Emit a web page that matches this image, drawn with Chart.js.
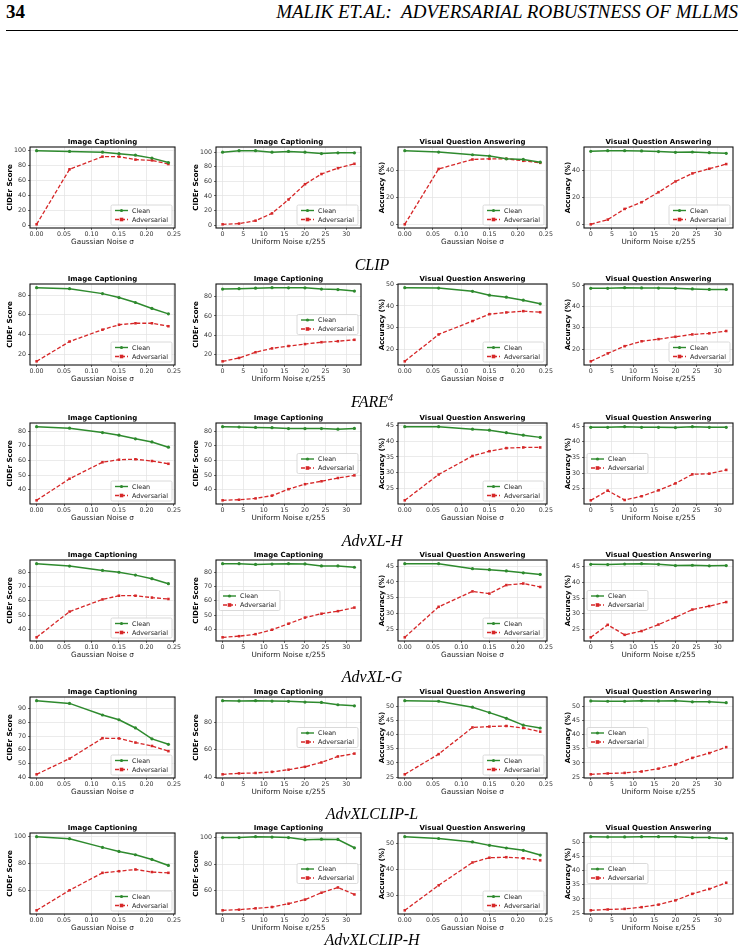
<!DOCTYPE html>
<html>
<head>
<meta charset="utf-8">
<script src="https://cdn.jsdelivr.net/npm/chart.js@4.4.0/dist/chart.umd.min.js"></script>
<style>
  body { margin: 0; width: 744px; height: 949px; background: #fff; position: relative; overflow: hidden; font-family: "Liberation Serif", serif; }
  .hdr { position: absolute; top: 1px; font-size: 19px; line-height: 22px; }
  .rule { position: absolute; left: 6px; right: 6px; top: 30px; border-top: 1px solid #000; }
  .cap { position: absolute; left: 0; width: 744px; text-align: center; font-style: italic; font-size: 16px; line-height: 18px; z-index: 2; pointer-events: none; }
  .cap sup { font-size: 10px; line-height: 0; }
  canvas { position: absolute; }
</style>
</head>
<body>
<div class="hdr" style="left:6px;font-weight:bold">34</div>
<div class="hdr" style="right:6px;font-style:italic">MALIK ET.AL:&nbsp; ADVERSARIAL ROBUSTNESS OF MLLMS</div>
<div class="rule"></div>

<div class="cap" style="top:256px">CLIP</div>
<div class="cap" style="top:393px">FARE<sup>4</sup></div>
<div class="cap" style="top:532px">AdvXL-H</div>
<div class="cap" style="top:668px">AdvXL-G</div>
<div class="cap" style="top:805px">AdvXLCLIP-L</div>
<div class="cap" style="top:931px">AdvXLCLIP-H</div>

<script>
const gaussSigma = [0, 0.06, 0.12, 0.15, 0.18, 0.21, 0.24];
const uniformEps = [0, 4, 8, 12, 16, 20, 24, 28, 32];

// CLIP
const clipCapGaussClean = [100, 99, 98, 96, 94, 90, 84];
const clipCapGaussAdv = [1, 75, 92, 92, 88, 87, 82];
const clipCapUnifClean = [100, 102, 102, 100, 101, 100, 98, 99, 99];
const clipCapUnifAdv = [1, 2, 6, 16, 35, 56, 70, 78, 84];
const clipVqaGaussClean = [54.5, 53.5, 51.5, 50.5, 48.5, 48, 46];
const clipVqaGaussAdv = [0, 41, 48, 48.5, 48.5, 47, 45.5];
const clipVqaUnifClean = [54.5, 55, 55, 54.8, 54.3, 53.8, 54, 53.5, 53];
const clipVqaUnifAdv = [0, 3.5, 11.5, 16.5, 24, 32, 38, 41.5, 45];

// FARE4
const fareCapGaussClean = [87.5, 86.5, 81.5, 77.5, 72.5, 66.5, 61];
const fareCapGaussAdv = [13, 33, 45, 50, 51.5, 51.5, 48.5];
const fareCapUnifClean = [88, 88.5, 89, 89.5, 89.3, 89.3, 88, 87.5, 86];
const fareCapUnifAdv = [12.5, 16, 22, 26, 28.5, 30.5, 32.5, 33.5, 35];
const fareVqaGaussClean = [48.5, 48.3, 46.8, 45, 44.1, 42.7, 41];
const fareVqaGaussAdv = [14.3, 26.8, 33, 36.2, 37, 37.6, 37.1];
const fareVqaUnifClean = [48.5, 48.5, 48.8, 48.7, 48.6, 48.5, 48.2, 48, 48];
const fareVqaUnifAdv = [14.3, 18, 21.4, 23.7, 24.7, 25.8, 26.9, 27.4, 28.5];

// AdvXL-H
const xlhCapGaussClean = [83, 82, 79, 77.2, 74.7, 72.6, 69];
const xlhCapGaussAdv = [32.8, 47.5, 58.8, 60.5, 60.8, 59.6, 57.7];
const xlhCapUnifClean = [83, 82.8, 82.5, 82.3, 81.7, 81.7, 81.7, 81.3, 81.8];
const xlhCapUnifAdv = [32.8, 33.2, 34.1, 36, 40.4, 43.8, 45.8, 48, 49.8];
const xlhVqaGaussClean = [44.6, 44.6, 43.8, 43.5, 42.7, 41.9, 41.2];
const xlhVqaGaussAdv = [21.2, 29.4, 35.3, 36.8, 37.8, 38, 38];
const xlhVqaUnifClean = [44.6, 44.6, 44.8, 44.6, 44.6, 44.5, 44.8, 44.6, 44.6];
const xlhVqaUnifAdv = [21.3, 24.4, 21.4, 22.6, 24.5, 26.7, 29.6, 29.8, 31];

// AdvXL-G
const xlgCapGaussClean = [86, 84.3, 81.3, 80, 78, 75.5, 72];
const xlgCapGaussAdv = [34.5, 52.5, 61, 63.6, 63.6, 62.3, 61.3];
const xlgCapUnifClean = [86, 86, 85.5, 85.7, 86, 85.8, 84.4, 84.4, 83.5];
const xlgCapUnifAdv = [34.5, 35.3, 36.7, 39.8, 44, 48.3, 51, 52.8, 55.3];
const xlgVqaGaussClean = [45.8, 45.8, 44.2, 43.9, 43.5, 42.9, 42.4];
const xlgVqaGaussAdv = [22.4, 32.1, 37, 36.3, 39, 39.5, 38.4];
const xlgVqaUnifClean = [45.8, 45.7, 45.9, 46, 45.8, 45.4, 45.5, 45.3, 45.4];
const xlgVqaUnifAdv = [22.4, 26.4, 23.2, 24.4, 26.5, 28.8, 31.3, 32.4, 33.7];

// AdvXLCLIP-L
const xclCapGaussClean = [96, 94, 85.5, 82, 76, 68, 64];
const xclCapGaussAdv = [42, 53.5, 68.5, 68.3, 65.3, 62.8, 59];
const xclCapUnifClean = [96, 95.8, 96, 95.7, 95.5, 95, 94.7, 93, 92.2];
const xclCapUnifAdv = [42, 42.7, 43, 43.8, 45.4, 47.5, 50.7, 55.1, 57.2];
const xclVqaGaussClean = [51.9, 51.7, 49.6, 47.7, 45.7, 43.3, 42.3];
const xclVqaGaussAdv = [26, 33.1, 42.5, 42.8, 43, 42.3, 41];
const xclVqaUnifClean = [51.9, 51.8, 51.8, 52, 51.9, 52, 51.6, 51.6, 51.3];
const xclVqaUnifAdv = [26, 26.3, 26.5, 27, 28, 29.5, 31.8, 33.5, 35.6];

// AdvXLCLIP-H
const xchCapGaussClean = [100, 98.5, 92, 89, 86.5, 83, 78.5];
const xchCapGaussAdv = [45, 60, 73, 74.2, 75.5, 73.6, 73];
const xchCapUnifClean = [100, 100, 100.7, 100.4, 100, 98.4, 98.8, 98.6, 92.3];
const xchCapUnifAdv = [45, 45.5, 46.5, 47.5, 50, 53.1, 58.3, 62.3, 57];
const xchVqaGaussClean = [52.5, 51.8, 50.5, 49.2, 48.2, 47.3, 45.5];
const xchVqaGaussAdv = [24.5, 34, 42.7, 44.5, 44.7, 44.3, 43.5];
const xchVqaUnifClean = [51.9, 51.8, 51.8, 51.9, 51.9, 51.9, 51.6, 51.6, 51.3];
const xchVqaUnifAdv = [26, 26.3, 26.5, 27.1, 28, 29.5, 31.8, 33.5, 35.7];

const GREEN = "#2e8a2e";
const RED = "#d62728";
const FONT = "'DejaVu Sans', sans-serif";

// one row per model: [clean, adv, yStep, legend position] for each of the 4 panels
const rows = [
  [[clipCapGaussClean, clipCapGaussAdv, 20, "lr"], [clipCapUnifClean, clipCapUnifAdv, 20, "lr"],
   [clipVqaGaussClean, clipVqaGaussAdv, 20, "lr"], [clipVqaUnifClean, clipVqaUnifAdv, 20, "lr"]],
  [[fareCapGaussClean, fareCapGaussAdv, 20, "lr"], [fareCapUnifClean, fareCapUnifAdv, 20, "cr"],
   [fareVqaGaussClean, fareVqaGaussAdv, 10, "lr"], [fareVqaUnifClean, fareVqaUnifAdv, 10, "lr"]],
  [[xlhCapGaussClean, xlhCapGaussAdv, 10, "lr"], [xlhCapUnifClean, xlhCapUnifAdv, 10, "cr"],
   [xlhVqaGaussClean, xlhVqaGaussAdv, 5, "lr"], [xlhVqaUnifClean, xlhVqaUnifAdv, 5, "cl"]],
  [[xlgCapGaussClean, xlgCapGaussAdv, 10, "lr"], [xlgCapUnifClean, xlgCapUnifAdv, 10, "cl"],
   [xlgVqaGaussClean, xlgVqaGaussAdv, 5, "lr"], [xlgVqaUnifClean, xlgVqaUnifAdv, 5, "cl"]],
  [[xclCapGaussClean, xclCapGaussAdv, 10, "lr"], [xclCapUnifClean, xclCapUnifAdv, 20, "cr"],
   [xclVqaGaussClean, xclVqaGaussAdv, 5, "lr"], [xclVqaUnifClean, xclVqaUnifAdv, 5, "cl"]],
  [[xchCapGaussClean, xchCapGaussAdv, 20, "lr"], [xchCapUnifClean, xchCapUnifAdv, 20, "cr"],
   [xchVqaGaussClean, xchVqaGaussAdv, 10, "lr"], [xchVqaUnifClean, xchVqaUnifAdv, 5, "cl"]],
];

const plotTops = [147, 284, 423, 560, 697, 833];
const titles = ["Image Captioning", "Image Captioning", "Visual Question Answering", "Visual Question Answering"];
const yLabels = ["CIDEr Score", "CIDEr Score", "Accuracy (%)", "Accuracy (%)"];

function makeTicks(min, max, step) {
  const out = [];
  for (let k = Math.ceil(min / step - 1e-9); k * step <= max + 1e-9; k++) {
    out.push({ value: +(k * step).toFixed(4) });
  }
  return out;
}

function drawMarker(ctx, x, y, kind) {
  if (kind === "clean") {
    ctx.fillStyle = GREEN;
    ctx.beginPath(); ctx.arc(x, y, 1.6, 0, Math.PI * 2); ctx.fill();
  } else {
    ctx.fillStyle = RED;
    ctx.fillRect(x - 1.8, y - 1.8, 3.6, 3.6);
  }
}

const panelDecor = {
  id: "panelDecor",
  beforeDraw(chart) {
    const ctx = chart.ctx;
    ctx.save(); ctx.fillStyle = "#fff"; ctx.fillRect(0, 0, chart.width, chart.height); ctx.restore();
  },
  afterDraw(chart, args, opts) {
    const ctx = chart.ctx, ca = chart.chartArea;
    ctx.save();
    ctx.strokeStyle = "#111"; ctx.lineWidth = 1.1;
    ctx.strokeRect(ca.left, ca.top, ca.right - ca.left, ca.bottom - ca.top);

    ctx.fillStyle = "#000";
    ctx.font = "bold 7px " + FONT;
    ctx.textAlign = "center"; ctx.textBaseline = "alphabetic";
    ctx.fillText(opts.title, (ca.left + ca.right) / 2, ca.top - 3);

    // legend box inside the axes
    ctx.font = "6.4px " + FONT;
    const tw = ctx.measureText("Adversarial").width;
    const w = 4 + 13 + 4 + tw + 4, h = 20;
    let x, y;
    if (opts.legend === "lr") { x = ca.right - 3 - w; y = ca.bottom - 3 - h; }
    else if (opts.legend === "cr") { x = ca.right - 3 - w; y = (ca.top + ca.bottom) / 2 - h / 2; }
    else { x = ca.left + 3; y = (ca.top + ca.bottom) / 2 - h / 2; }
    ctx.fillStyle = "rgba(255,255,255,0.85)";
    ctx.strokeStyle = "#d0d0d0"; ctx.lineWidth = 0.8;
    ctx.beginPath(); ctx.roundRect(x, y, w, h, 1.5); ctx.fill(); ctx.stroke();
    const items = [["Clean", GREEN, [], "clean"], ["Adversarial", RED, [4, 2], "adv"]];
    items.forEach((it, i) => {
      const ly = y + 5.5 + i * 9;
      ctx.strokeStyle = it[1]; ctx.lineWidth = 1.4; ctx.setLineDash(it[2]);
      ctx.beginPath(); ctx.moveTo(x + 4, ly); ctx.lineTo(x + 17, ly); ctx.stroke();
      ctx.setLineDash([]);
      drawMarker(ctx, x + 10.5, ly, it[3]);
      ctx.fillStyle = "#222"; ctx.textAlign = "left"; ctx.textBaseline = "middle";
      ctx.fillText(it[0], x + 21, ly + 0.5);
    });
    ctx.restore();
  }
};

rows.forEach((row, r) => {
  row.forEach((p, c) => {
    const [clean, adv, yStep, legendPos] = p;
    const gauss = c % 2 === 0;
    const xs = gauss ? gaussSigma : uniformEps;
    const all = clean.concat(adv);
    const lo = Math.min(...all), hi = Math.max(...all), pad = (hi - lo) * 0.05;
    const xPad = (xs[xs.length - 1] - xs[0]) * 0.05;

    const canvas = document.createElement("canvas");
    canvas.width = 186; canvas.height = 113;
    canvas.style.left = (c * 186) + "px";
    canvas.style.top = (plotTops[r] - 14) + "px";
    document.body.appendChild(canvas);

    new Chart(canvas, {
      type: "line",
      data: {
        datasets: [
          {
            label: "Clean",
            data: xs.map((x, i) => ({ x, y: clean[i] })),
            borderColor: GREEN, backgroundColor: GREEN, borderWidth: 1.5,
            pointStyle: "circle", pointRadius: 1.6, pointBorderWidth: 0, tension: 0,
          },
          {
            label: "Adversarial",
            data: xs.map((x, i) => ({ x, y: adv[i] })),
            borderColor: RED, backgroundColor: RED, borderWidth: 1.3, borderDash: [4, 2],
            pointStyle: "rect", pointRadius: 1.8, pointBorderWidth: 0, tension: 0,
          },
        ],
      },
      options: {
        responsive: false, animation: false, devicePixelRatio: 1,
        layout: { padding: { top: 14, right: 11, left: 0, bottom: 0 } },
        plugins: {
          legend: { display: false }, tooltip: { enabled: false },
          panelDecor: { title: titles[c], legend: legendPos },
        },
        scales: {
          x: {
            type: "linear",
            min: xs[0] - xPad, max: xs[xs.length - 1] + xPad,
            afterBuildTicks: (s) => { s.ticks = makeTicks(s.min, s.max, gauss ? 0.05 : 5); },
            afterFit: (s) => { s.height = 18; },
            grid: { color: "#e3e3e3", lineWidth: 0.7, tickLength: 2, tickColor: "#333" },
            border: { display: false },
            ticks: {
              font: { family: FONT, size: 6.3 }, color: "#333", padding: 1, maxRotation: 0,
              callback: (v) => gauss ? v.toFixed(2) : String(v),
            },
            title: {
              display: true, text: gauss ? "Gaussian Noise σ" : "Uniform Noise ε/255",
              font: { family: FONT, size: 7.3 }, color: "#222", padding: { top: 0, bottom: 0 },
            },
          },
          y: {
            min: lo - pad, max: hi + pad,
            afterBuildTicks: (s) => { s.ticks = makeTicks(s.min, s.max, yStep); },
            afterFit: (s) => { s.width = c < 2 ? 30 : 26; },
            grid: { color: "#e3e3e3", lineWidth: 0.7, tickLength: 2, tickColor: "#333" },
            border: { display: false },
            ticks: { font: { family: FONT, size: 6.3 }, color: "#333", padding: 2 },
            title: {
              display: true, text: yLabels[c],
              font: { family: FONT, size: 7, weight: "bold" }, color: "#000",
              padding: { top: 6, bottom: 0 },
            },
          },
        },
      },
      plugins: [panelDecor],
    });
  });
});
</script>
</body>
</html>
